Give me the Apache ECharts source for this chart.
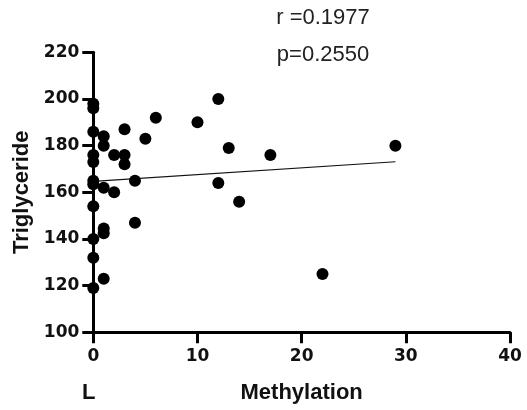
<!DOCTYPE html>
<html>
<head>
<meta charset="utf-8">
<script src="https://cdn.jsdelivr.net/npm/echarts@6/dist/echarts.min.js"></script>
<style>html,body{margin:0;padding:0;background:#fff}#c{width:527px;height:410px}</style>
</head>
<body>
<div id="c"></div>
<script>
var methylation = [0,0,0,0,0,0,0,0,0,0,0,1,1,1,1,1,1,2,2,3,3,3,4,4,5,6,10,12,12,13,14,17,22,29];
var triglyceride = [198,196,186,176,173,165,163.5,154,140,132,119,184,180,162,142.5,144.5,123,176,160,187,176,172,165,147,183,192,190,200,164,179,156,176,125,180];
var fitX = [0, 29];
var fitY = [164.7, 173.1];
var xTicks = [0, 10, 20, 30, 40];
var yTicks = [100, 120, 140, 160, 180, 200, 220];
var statsText = ['r =0.1977', 'p=0.2550'];

var pts = methylation.map(function (x, i) { return [x, triglyceride[i]]; });
var fit = fitX.map(function (x, i) { return [x, fitY[i]]; });

var chart = echarts.init(document.getElementById('c'));
var axisLabelStyle = { fontFamily: 'DejaVu Sans', fontWeight: 'bold', fontSize: 17, color: '#111' };
chart.setOption({
  animation: false,
  grid: { left: 93.3, right: 17, top: 52.3, bottom: 77.7 },
  xAxis: {
    type: 'value', min: xTicks[0], max: xTicks[xTicks.length - 1], interval: 10,
    name: 'Methylation', nameLocation: 'middle', nameGap: 50,
    nameTextStyle: { fontFamily: 'Liberation Sans', fontWeight: 'bold', fontSize: 22, color: '#111' },
    axisLine: { onZero: false, lineStyle: { color: '#000', width: 3 } },
    axisTick: { length: 11, lineStyle: { color: '#000', width: 3 } },
    axisLabel: Object.assign({ margin: 16 }, axisLabelStyle),
    splitLine: { show: false }
  },
  yAxis: {
    type: 'value', min: yTicks[0], max: yTicks[yTicks.length - 1], interval: 20,
    name: 'Triglyceride', nameLocation: 'middle', nameGap: 58,
    nameTextStyle: { fontFamily: 'Liberation Sans', fontWeight: 'bold', fontSize: 22, color: '#111' },
    axisLine: { onZero: false, lineStyle: { color: '#000', width: 3 } },
    axisTick: { length: 11, lineStyle: { color: '#000', width: 3 } },
    axisLabel: Object.assign({ margin: 14 }, axisLabelStyle),
    splitLine: { show: false }
  },
  graphic: [
    { type: 'text', left: 82, top: 382, style: { text: 'L', font: 'bold 22px "Liberation Sans"', fill: '#111' } },
    { type: 'text', x: 323, y: 18, style: { text: statsText[0], font: '22px "Liberation Sans"', fill: '#222', textAlign: 'center', textVerticalAlign: 'middle' } },
    { type: 'text', x: 323, y: 55, style: { text: statsText[1], font: '22px "Liberation Sans"', fill: '#222', textAlign: 'center', textVerticalAlign: 'middle' } }
  ],
  series: [
    { type: 'line', data: fit, symbol: 'none', lineStyle: { color: '#111', width: 1.2 }, z: 1 },
    { type: 'scatter', data: pts, symbol: 'circle', symbolSize: 12, itemStyle: { color: '#000', opacity: 1 }, z: 3 }
  ]
});
</script>
</body>
</html>
